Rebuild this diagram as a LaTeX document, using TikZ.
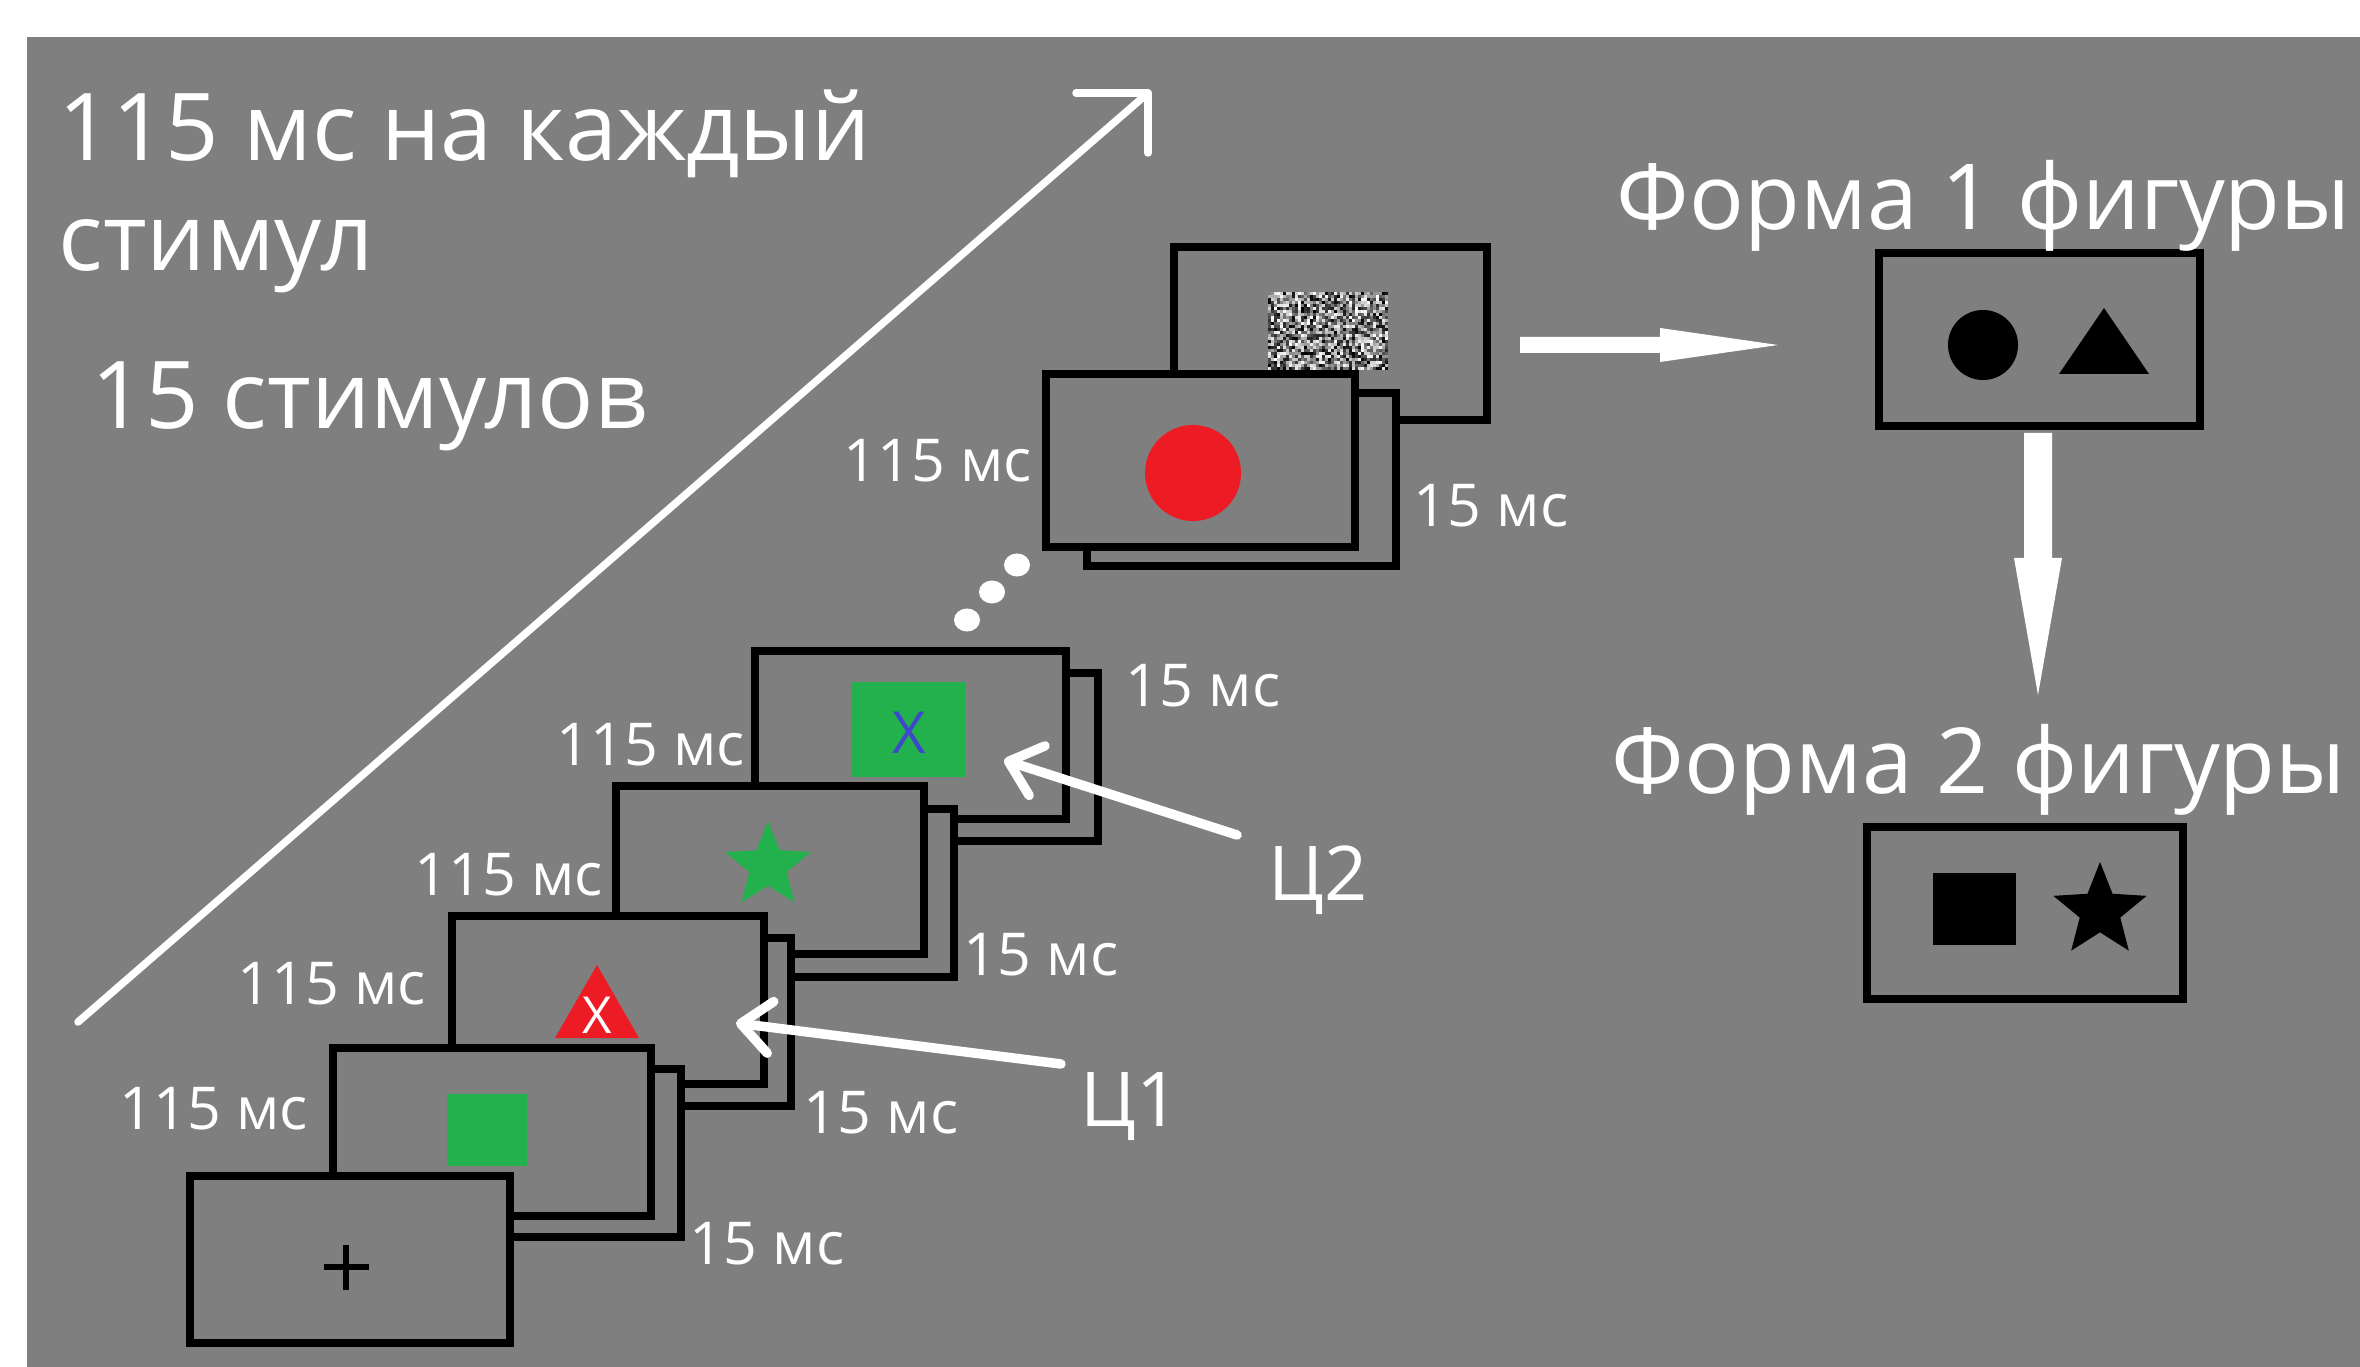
\documentclass[tikz,border=0pt]{standalone}
\usepackage{fontspec}
\setmainfont{Open Sans}
\usetikzlibrary{arrows.meta,shapes.geometric}
\definecolor{bg}{RGB}{127,127,127}
\definecolor{pred}{RGB}{237,28,36}
\definecolor{pgreen}{RGB}{34,177,76}
\definecolor{pblue}{RGB}{63,72,204}
\begin{document}
\begin{tikzpicture}[x=0.01cm,y=-0.01cm,
  frame/.style={draw=black,fill=bg,line width=0.08cm,inner sep=0pt,outer sep=0pt,anchor=north west},
  lbl/.style={text=white,font=\fontsize{16.8}{20}\selectfont,anchor=base west,inner sep=0pt},
  big/.style={text=white,font=\fontsize{26.6}{31}\selectfont,anchor=base west,inner sep=0pt},
  bigr/.style={text=white,font=\fontsize{25.9}{31}\selectfont,anchor=base west,inner sep=0pt},
  tgt/.style={text=white,font=\fontsize{21.5}{26}\selectfont,anchor=base west,inner sep=0pt},
  pointer/.style={draw=white,line width=0.095cm,line cap=round,-{Straight Barb[length=0.3cm,width=0.52cm,round]}},
  ]
\useasboundingbox (0,0) rectangle (2360,1367);
\clip (0,0) rectangle (2360,1367);
\fill[white] (0,0) rectangle (2360,1367);
\fill[bg] (27,37) rectangle (2360,1367);

% top mask frame with noise
\node[frame,minimum width=3.13cm,minimum height=1.73cm] (fM) at (1174,247) {};
\pgfmathsetseed{11}
\foreach \i in {0,...,39}{
  \foreach \j in {0,...,25}{
    \pgfmathsetmacro\g{int(random(0,100))}
    \fill[white!\g!black] ({1268+\i*3},{292+\j*3}) rectangle ++(3,3);
  }
}

% pair E (red circle)
\node[frame,minimum width=3.09cm,minimum height=1.73cm] (bE) at (1087,393) {};
\node[frame,minimum width=3.09cm,minimum height=1.73cm] (fE) at (1046,374) {};
\fill[pred] (1193,473) circle[radius=0.48cm];

% dots
\fill[white] (967,620) ellipse[x radius=0.13cm,y radius=0.115cm];
\fill[white] (992,592) ellipse[x radius=0.13cm,y radius=0.115cm];
\fill[white] (1017,565) ellipse[x radius=0.13cm,y radius=0.115cm];

% pair D (green square with blue X)
\node[frame,minimum width=3.11cm,minimum height=1.68cm] (bD) at (787,673) {};
\node[frame,minimum width=3.11cm,minimum height=1.68cm] (fD) at (755,651) {};
\fill[pgreen] (852,682) rectangle (965,777);
\node[text=pblue,font=\fontsize{16.5}{18}\selectfont,inner sep=0pt] (xD) at (909,733) {X};

% pair C (green star)
\node[frame,minimum width=3.08cm,minimum height=1.68cm] (bC) at (646,809) {};
\node[frame,minimum width=3.08cm,minimum height=1.68cm] (fC) at (616,786) {};
\node[star,star points=5,star point ratio=2.3,fill=pgreen,minimum size=0.9cm,inner sep=0pt] (sC) at (768,866) {};

% pair B (red triangle with X)
\node[frame,minimum width=3.12cm,minimum height=1.68cm] (bB) at (479,938) {};
\node[frame,minimum width=3.12cm,minimum height=1.68cm] (fB) at (452,916) {};
\fill[pred] (597,965) -- (639,1038) -- (555,1038) -- cycle;
\node[text=white,font=\fontsize{14.5}{16}\selectfont,inner sep=0pt] (xB) at (597,1015) {X};

% pair A (green square)
\node[frame,minimum width=3.18cm,minimum height=1.68cm] (bA) at (363,1069) {};
\node[frame,minimum width=3.18cm,minimum height=1.68cm] (fA) at (333,1048) {};
\fill[pgreen] (447,1094) rectangle (527,1166);

% fixation
\node[frame,minimum width=3.20cm,minimum height=1.67cm] (f0) at (190,1176) {};
\draw[black,line width=0.055cm] (324,1267) -- (369,1267) (346,1245) -- (346,1290);

% big diagonal arrow
\coordinate (ds) at (78,1022);
\coordinate (de) at (1148,93);
\coordinate (dh) at (1076,93);
\coordinate (dv) at (1148,153);
\draw[white,line width=0.075cm,line cap=round,line join=round] (ds) -- (de);
\draw[white,line width=0.075cm,line cap=round,line join=round] (dh) -- (de) -- (dv);

% target pointers
\coordinate (c2tail) at (1237,835);
\coordinate (c2tip) at (1004,760);
\draw[pointer] (c2tail) -- (c2tip);
\coordinate (c1tail) at (1061,1064);
\coordinate (c1tip) at (736,1023);
\draw[pointer] (c1tail) -- (c1tip);

% right side boxes
\node[frame,minimum width=3.21cm,minimum height=1.73cm] (b1) at (1879,253) {};
\fill[black] (1983,345) circle[radius=0.35cm];
\fill[black] (2104,308) -- (2149,374) -- (2059,374) -- cycle;
\node[frame,minimum width=3.16cm,minimum height=1.72cm] (b2) at (1867,827) {};
\fill[black] (1933,873) rectangle (2016,945);
\node[star,star points=5,star point ratio=2.3,fill=black,minimum size=0.98cm,inner sep=0pt] (s2) at (2100,911) {};

% white block arrows
\coordinate (ha) at (1520,345);
\coordinate (hb) at (1778,345);
\fill[white] (ha) ++(0,-8) -- (1660,337) -- (1660,328) -- (hb) -- (1660,362) -- (1660,353) -- (1520,353) -- cycle;
\coordinate (va) at (2038,433);
\coordinate (vb) at (2038,695);
\fill[white] (va) ++(-14,0) -- (2052,433) -- (2052,558) -- (2062,558) -- (vb) -- (2014,558) -- (2024,558) -- cycle;

% texts
\node[big] (t1) at (58,161) {115 мс на каждый};
\node[big] (t2) at (58,271) {стимул};
\node[big] (t3) at (91,429) {15 стимулов};
\node[bigr] (t4) at (1616,230) {Форма 1 фигуры};
\node[bigr] (t5) at (1611,793) {Форма 2 фигуры};

\node[lbl] (lE1) at (843,482) {115 мс};
\node[lbl] (lE2) at (1413,527) {15 мс};
\node[lbl] (lD2) at (1125,706) {15 мс};
\node[lbl] (lD1) at (556,765) {115 мс};
\node[lbl] (lC1) at (414,895) {115 мс};
\node[lbl] (lC2) at (963,975) {15 мс};
\node[lbl] (lB1) at (237,1004) {115 мс};
\node[lbl] (lB2) at (803,1133) {15 мс};
\node[lbl] (lA1) at (119,1129) {115 мс};
\node[lbl] (lA2) at (689,1264) {15 мс};

\node[tgt] (c2) at (1268,900) {Ц2};
\node[tgt] (c1) at (1080,1126) {Ц1};
\end{tikzpicture}
\end{document}
